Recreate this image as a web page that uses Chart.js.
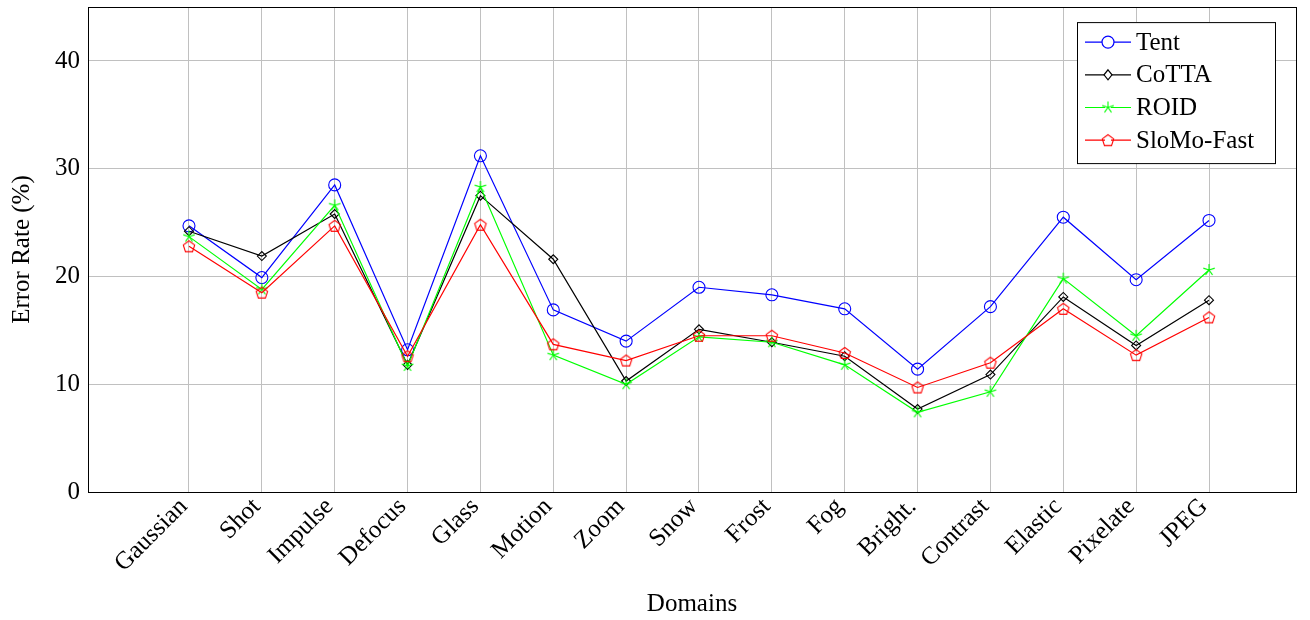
<!DOCTYPE html>
<html>
<head>
<meta charset="utf-8">
<script src="https://cdn.jsdelivr.net/npm/chart.js@4.4.0/dist/chart.umd.min.js"></script>
<style>
  html, body { margin: 0; padding: 0; background: #fff; }
</style>
</head>
<body>
<canvas id="myChart" width="1310" height="620"></canvas>
<script>
// Dados
var domains = ['Gaussian', 'Shot', 'Impulse', 'Defocus', 'Glass', 'Motion', 'Zoom', 'Snow',
  'Frost', 'Fog', 'Bright.', 'Contrast', 'Elastic', 'Pixelate', 'JPEG'];
var tent   = [24.7, 19.9, 28.5, 13.2, 31.2, 16.9, 14.0, 19.0, 18.3, 17.0, 11.4, 17.2, 25.5, 19.7, 25.2];
var cotta  = [24.2, 21.9, 25.8, 11.8, 27.5, 21.6, 10.3, 15.1, 13.9, 12.6, 7.7, 10.9, 18.1, 13.6, 17.8];
var roid   = [23.7, 18.8, 26.6, 11.7, 28.3, 12.7, 10.0, 14.4, 13.9, 11.8, 7.4, 9.3, 19.8, 14.5, 20.6];
var slomo  = [22.8, 18.5, 24.7, 12.6, 24.8, 13.7, 12.2, 14.5, 14.5, 12.9, 9.7, 12.0, 17.0, 12.7, 16.2];
var yTicks = [0, 10, 20, 30, 40];

var FONT = "'Liberation Serif', 'Times New Roman', serif";

// Marcador pentágono (não existe no Chart.js)
function makePentagon(color) {
  var c = document.createElement('canvas');
  c.width = 16; c.height = 16;
  var g = c.getContext('2d');
  g.strokeStyle = color;
  g.lineWidth = 1.1;
  g.beginPath();
  for (var k = 0; k < 5; k++) {
    var a = -Math.PI / 2 + k * 2 * Math.PI / 5;
    var px = 8 + 6 * Math.cos(a), py = 8.5 + 6 * Math.sin(a);
    if (k === 0) g.moveTo(px, py); else g.lineTo(px, py);
  }
  g.closePath();
  g.stroke();
  return c;
}

// Marcador estrela de 5 braços (estilo pgfplots)
function makeStar(color) {
  var c = document.createElement('canvas');
  c.width = 16; c.height = 16;
  var g = c.getContext('2d');
  g.strokeStyle = color;
  g.lineWidth = 1.1;
  g.beginPath();
  for (var k = 0; k < 5; k++) {
    var a = -Math.PI / 2 + k * 2 * Math.PI / 5;
    g.moveTo(8, 8);
    g.lineTo(8 + 6 * Math.cos(a), 8 + 6 * Math.sin(a));
  }
  g.stroke();
  return c;
}

var pentagon = makePentagon('#ff0000');
var star = makeStar('#00ff00');

function toPoints(arr) {
  return arr.map(function (v, i) { return { x: i, y: v }; });
}

var series = [
  { label: 'Tent', data: tent, color: '#0000ff', style: 'circle', radius: 6, order: 4 },
  { label: 'CoTTA', data: cotta, color: '#000000', style: 'rectRot', radius: 4.5, order: 3 },
  { label: 'ROID', data: roid, color: '#00ff00', style: star, radius: 6, order: 2 },
  { label: 'SloMo-Fast', data: slomo, color: '#ff0000', style: pentagon, radius: 6, order: 1 }
];

// Rótulos do eixo x inclinados (canto superior direito encostado no tick)
var xLabelPlugin = {
  id: 'xlabels',
  afterDraw: function (chart) {
    var ctx = chart.ctx, sx = chart.scales.x, a = chart.chartArea;
    ctx.save();
    ctx.fillStyle = '#000';
    ctx.font = '25px ' + FONT;
    ctx.textAlign = 'right';
    ctx.textBaseline = 'top';
    domains.forEach(function (d, i) {
      var x = sx.getPixelForValue(i);
      ctx.save();
      ctx.translate(x - 14, a.bottom + 2);
      ctx.rotate(-Math.PI / 4);
      ctx.fillText(d, 0, 0);
      ctx.restore();
    });
    ctx.restore();
  }
};

// Moldura preta e legenda dentro da área do gráfico
var framePlugin = {
  id: 'frame',
  afterDraw: function (chart) {
    var ctx = chart.ctx, a = chart.chartArea;
    ctx.save();
    ctx.strokeStyle = '#000';
    ctx.lineWidth = 1;
    ctx.strokeRect(Math.round(a.left) + 0.5, Math.round(a.top) + 0.5,
      Math.round(a.right - a.left), Math.round(a.bottom - a.top));

    // legenda
    var bx = a.right - 219, by = a.top + 15, bw = 198, bh = 141;
    ctx.fillStyle = '#fff';
    ctx.fillRect(bx, by, bw, bh);
    ctx.strokeRect(bx + 0.5, by + 0.5, bw, bh);
    ctx.font = '25px ' + FONT;
    ctx.textBaseline = 'middle';
    ctx.lineWidth = 1.2;
    series.forEach(function (s, i) {
      var y = by + 20 + i * 32.7;
      ctx.strokeStyle = s.color;
      ctx.beginPath();
      ctx.moveTo(bx + 8, y); ctx.lineTo(bx + 54, y);
      ctx.stroke();
      var mx = bx + 31;
      if (s.style === 'circle') {
        ctx.fillStyle = '#fff';
        ctx.beginPath(); ctx.arc(mx, y, 6, 0, Math.PI * 2); ctx.fill(); ctx.stroke();
      } else if (s.style === 'rectRot') {
        ctx.fillStyle = '#fff';
        ctx.beginPath();
        ctx.moveTo(mx, y - 5); ctx.lineTo(mx + 4, y); ctx.lineTo(mx, y + 5); ctx.lineTo(mx - 4, y);
        ctx.closePath(); ctx.fill(); ctx.stroke();
      } else {
        ctx.fillStyle = '#fff';
        ctx.fillRect(mx - 3, y - 3, 6, 6);
        ctx.drawImage(s.style, mx - 8, y - 8);
      }
      ctx.fillStyle = '#000';
      ctx.fillText(s.label, bx + 59, y + 1);
    });
    ctx.restore();
  }
};

var ctx = document.getElementById('myChart').getContext('2d');

var config = {
  type: 'line',
  data: {
    datasets: series.map(function (s) {
      return {
        label: s.label,
        data: toPoints(s.data),
        borderColor: s.color,
        borderWidth: 1.2,
        pointStyle: s.style,
        pointRadius: s.radius,
        pointBorderColor: s.color,
        pointBackgroundColor: 'rgba(0,0,0,0)',
        pointBorderWidth: 1.1,
        tension: 0,
        fill: false,
        order: s.order
      };
    })
  },
  options: {
    responsive: false,
    animation: false,
    layout: { padding: { top: 7, right: 14, left: 0, bottom: 0 } },
    plugins: {
      legend: { display: false },
      tooltip: { enabled: false }
    },
    scales: {
      x: {
        type: 'linear',
        min: -1.386,
        max: 15.194,
        afterBuildTicks: function (scale) {
          scale.ticks = domains.map(function (d, i) { return { value: i }; });
        },
        afterFit: function (scale) {
          scale.height = 128;
          scale.paddingLeft = 0; scale.paddingRight = 0;
        },
        grid: { color: '#c0c0c0', drawTicks: false },
        border: { display: false },
        ticks: { display: false },
        title: {
          display: true,
          text: 'Domains',
          color: '#000',
          font: { family: FONT, size: 25 },
          padding: { top: 0, bottom: 1 }
        }
      },
      y: {
        min: 0,
        max: 45,
        afterBuildTicks: function (scale) {
          scale.ticks = yTicks.map(function (v) { return { value: v }; });
        },
        afterFit: function (scale) {
          scale.width = 88;
          scale.paddingTop = 0; scale.paddingBottom = 0;
        },
        grid: { color: '#c0c0c0', drawTicks: false },
        border: { display: false },
        ticks: {
          padding: 8,
          color: '#000',
          font: { family: FONT, size: 25 }
        },
        title: {
          display: true,
          text: 'Error Rate (%)',
          color: '#000',
          font: { family: FONT, size: 25 },
          padding: { top: 7, bottom: 0 }
        }
      }
    }
  },
  plugins: [framePlugin, xLabelPlugin]
};

var chart = new Chart(ctx, config);
</script>
</body>
</html>
